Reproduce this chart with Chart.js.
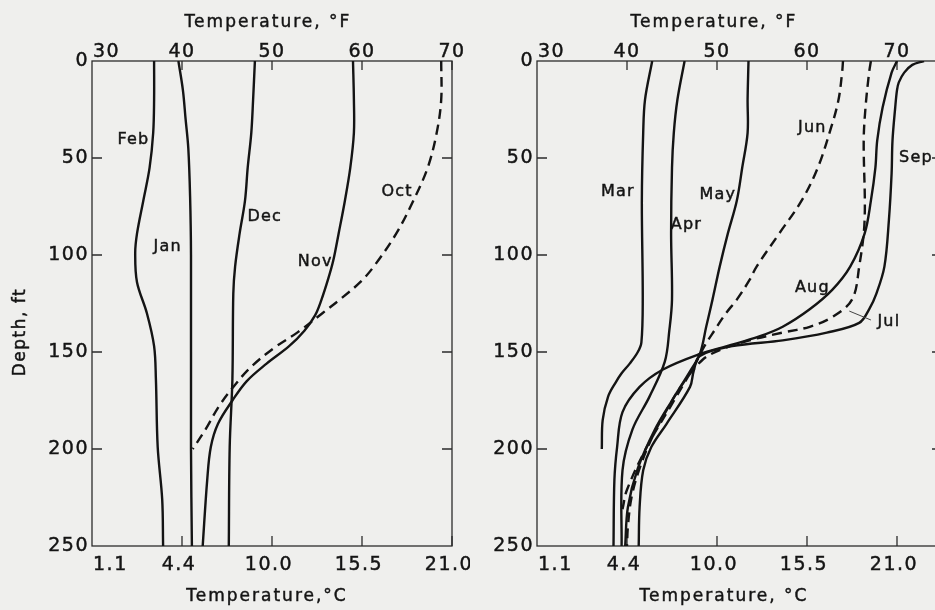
<!DOCTYPE html>
<html><head><meta charset="utf-8">
<script src="https://cdn.jsdelivr.net/npm/chart.js@4.4.1/dist/chart.umd.min.js"></script>
<style>
html,body{margin:0;padding:0;background:#efefed;overflow:hidden;width:935px;height:610px;}
#cl{position:absolute;left:0;top:0;}
#cr{position:absolute;left:470px;top:0;}
</style></head><body>
<canvas id="cl" width="470" height="610"></canvas>
<canvas id="cr" width="480" height="610"></canvas>
<script>
// ---- axis ticks ----
const fTicks = [30, 40, 50, 60, 70];
const cTickLabels = ['1.1', '4.4', '10.0', '15.5', '21.0'];
const depthTicks = [0, 50, 100, 150, 200, 250];

// ---- left panel (Oct - Feb) : depth ft, temperature °F ----
const depthFeb = [0, 20, 37, 55, 72, 89, 99, 114, 130, 147, 164, 199, 226, 250];
const tempFeb  = [36.9, 36.9, 36.8, 36.4, 35.7, 35.0, 34.8, 35.0, 36.1, 36.9, 37.1, 37.3, 37.8, 37.9];
const depthJan = [0, 15, 30, 45, 70, 100, 200, 250];
const tempJan  = [39.6, 40.1, 40.4, 40.7, 40.9, 41.0, 41.0, 41.1];
const depthDec = [0, 20, 37, 55, 72, 89, 106, 120, 164, 199, 250];
const tempDec  = [48.1, 47.9, 47.7, 47.3, 47.0, 46.4, 45.9, 45.7, 45.6, 45.3, 45.2];
const depthNov = [0, 20, 37, 55, 72, 89, 103, 113, 123, 131, 139, 147, 156, 165, 175, 187, 199, 216, 250];
const tempNov  = [59.0, 59.1, 59.1, 58.7, 58.1, 57.4, 56.8, 56.2, 55.5, 54.8, 53.6, 51.9, 49.4, 47.2, 45.6, 44.0, 43.2, 42.8, 42.3];
const depthOct = [0, 20, 37, 55, 72, 89, 106, 114, 122, 130, 140, 148, 158, 168, 178, 190, 200];
const tempOct  = [68.8, 68.8, 68.3, 67.3, 65.7, 63.8, 61.3, 59.8, 57.8, 55.6, 52.8, 50.2, 47.6, 45.7, 44.1, 42.6, 41.2];

// ---- right panel (Mar - Sep) ----
const depthMar = [0, 20, 37, 72, 123, 145, 150, 156, 161, 166, 173, 185, 200];
const tempMar  = [42.8, 42.0, 41.8, 41.65, 41.75, 41.6, 41.2, 40.3, 39.4, 38.7, 37.9, 37.3, 37.2];
const depthApr = [0, 20, 37, 55, 89, 123, 139, 155, 173, 190, 211, 250];
const tempApr  = [46.4, 45.6, 45.2, 45.0, 44.9, 45.0, 44.7, 44.2, 42.5, 40.6, 39.5, 39.4];
const depthMay = [0, 20, 37, 55, 72, 89, 106, 123, 137, 151, 160, 175, 190, 210, 230, 250];
const tempMay  = [53.5, 53.4, 53.4, 52.8, 52.2, 51.2, 50.3, 49.5, 48.8, 48.1, 47.0, 45.0, 43.1, 41.2, 40.1, 39.8];
const depthJun = [0, 6, 20, 34, 55, 72, 89, 106, 113, 123, 130, 139, 147, 156, 176, 199, 221, 231];
const tempJun  = [64.0, 63.9, 63.5, 62.7, 61.2, 59.4, 56.9, 54.4, 53.6, 52.2, 51.0, 49.7, 48.6, 47.6, 45.1, 42.2, 40.0, 39.5];
const depthJul = [0, 6, 24, 41, 82, 106, 123, 132, 137, 140, 144, 149, 154, 165, 180, 195, 210, 225, 240, 250];
const tempJul  = [67.1, 66.9, 66.5, 66.3, 66.4, 65.8, 65.0, 62.8, 60.3, 57.3, 53.6, 50.3, 48.4, 46.4, 44.4, 42.7, 41.4, 40.5, 40.1, 40.0];
const depthAug = [0, 6, 24, 41, 55, 72, 89, 106, 118, 128, 137, 142, 147, 151, 159, 168, 181, 199, 216, 250];
const tempAug  = [70.0, 69.4, 68.4, 67.8, 67.6, 67.1, 66.4, 64.8, 62.8, 60.3, 57.3, 54.7, 51.1, 48.1, 44.0, 41.4, 39.5, 38.9, 38.6, 38.5];
const depthSep = [0, 2, 6, 11, 15, 24, 41, 58, 82, 106, 120, 128, 135, 140, 144, 147, 152, 160, 168, 187, 199, 211, 230, 250];
const tempSep  = [73.0, 71.7, 70.8, 70.2, 70.0, 69.8, 69.5, 69.4, 69.1, 68.6, 67.7, 66.9, 65.8, 62.2, 57.3, 51.7, 48.1, 47.4, 47.0, 44.4, 42.7, 41.8, 41.4, 41.3];

// ---- curve labels (text, anchored in data units) ----
const leftNames  = ['Feb', 'Jan', 'Dec', 'Nov', 'Oct'];
const leftNoteT  = [34.6, 38.4, 49.2, 54.8, 63.9];
const leftNoteD  = [40.7, 95.9, 80.4, 103.6, 67.5];
const rightNames = ['Mar', 'Apr', 'May', 'Jun', 'Sep', 'Aug', 'Jul'];
const rightNoteT = [39.0, 46.6, 50.1, 60.6, 72.1, 60.6, 69.1];
const rightNoteD = [67.5, 84.5, 69.1, 34.5, 50.0, 117, 134.5];

const INK = '#141414';
const FONT = '"DejaVu Sans", sans-serif';

function curve(temps, depths, dashed) {
  return {
    data: depths.map((d, i) => ({ x: temps[i], y: d })),
    borderColor: INK,
    borderWidth: 2.4,
    borderDash: dashed ? [10, 6] : [],
    pointRadius: 0,
    fill: false,
    tension: 0.35
  };
}

function txt(ctx, s, x, y, align, base, size, spacing) {
  ctx.font = size + 'px ' + FONT;
  ctx.letterSpacing = spacing + 'px';
  ctx.textAlign = align;
  ctx.textBaseline = base;
  ctx.fillText(s, x, y);
  ctx.lineWidth = 0.45;
  ctx.strokeStyle = INK;
  ctx.strokeText(s, x, y);
}

const panelPlugin = {
  id: 'panel',
  beforeDatasetsDraw(chart, args, o) {
    const { ctx, chartArea: a, scales } = chart;
    const xs = scales.x, ys = scales.y;
    ctx.save();
    ctx.strokeStyle = '#2b2b2b';
    ctx.lineWidth = 1.3;
    ctx.strokeRect(a.left, a.top, a.right - a.left, a.bottom - a.top);
    ctx.beginPath();
    fTicks.forEach((v, i) => {
      if (i === 0) return;
      const x = xs.getPixelForValue(v);
      ctx.moveTo(x, a.top); ctx.lineTo(x, a.top + 9);
      ctx.moveTo(x, a.bottom); ctx.lineTo(x, a.bottom - 10);
    });
    depthTicks.forEach(v => {
      if (v === 0 || v === 250) return;
      const y = ys.getPixelForValue(v);
      ctx.moveTo(a.left, y); ctx.lineTo(a.left + 10, y);
      ctx.moveTo(a.right, y); ctx.lineTo(a.right - 10, y);
    });
    ctx.stroke();
    ctx.restore();
  },
  afterDraw(chart, args, o) {
    const { ctx, chartArea: a, scales } = chart;
    const xs = scales.x, ys = scales.y;
    ctx.save();
    ctx.fillStyle = INK;
    depthTicks.forEach(v => {
      txt(ctx, String(v), a.left - 3, ys.getPixelForValue(v), 'right', 'middle', 19, 1.5);
    });
    fTicks.forEach((v, i) => {
      const x = xs.getPixelForValue(v);
      txt(ctx, String(v), i === 0 ? x + 1 : x, a.top - 4, i === 0 ? 'left' : 'center', 'alphabetic', 19, 1.5);
      txt(ctx, cTickLabels[i], i === 0 ? x + 1 : x - 3, a.bottom + 24, i === 0 ? 'left' : 'center', 'alphabetic', 19, 1.5);
    });
    txt(ctx, 'Temperature, °F', a.left + o.topTitleDx, 27, 'center', 'alphabetic', 17, 2);
    txt(ctx, o.bottomTitle, a.left + o.bottomTitleDx, 601, 'center', 'alphabetic', 17, 2);
    if (o.yTitle) {
      ctx.save();
      ctx.translate(21, 332);
      ctx.rotate(-Math.PI / 2);
      txt(ctx, o.yTitle, 0, 0, 'center', 'middle', 17, 1.5);
      ctx.restore();
    }
    o.names.forEach((s, i) => {
      txt(ctx, s, xs.getPixelForValue(o.temps[i]), ys.getPixelForValue(o.depths[i]), 'center', 'middle', 16, 1.2);
    });
    if (o.leader) {
      ctx.strokeStyle = '#444';
      ctx.lineWidth = 1;
      ctx.beginPath();
      ctx.moveTo(xs.getPixelForValue(o.leader[0]), ys.getPixelForValue(o.leader[1]));
      ctx.lineTo(xs.getPixelForValue(o.leader[2]), ys.getPixelForValue(o.leader[3]));
      ctx.stroke();
    }
    ctx.restore();
  }
};

function makeChart(id, datasets, xMax, pad, opts) {
  return new Chart(document.getElementById(id), {
    type: 'line',
    data: { datasets },
    options: {
      responsive: false,
      animation: false,
      indexAxis: 'y',
      layout: { padding: pad },
      plugins: { legend: { display: false }, tooltip: { enabled: false }, panel: opts },
      scales: {
        x: { type: 'linear', min: 30, max: xMax, display: false },
        y: { type: 'linear', min: 0, max: 250, reverse: true, display: false }
      }
    },
    plugins: [panelPlugin]
  });
}

makeChart('cl', [
  curve(tempFeb, depthFeb, false),
  curve(tempJan, depthJan, false),
  curve(tempDec, depthDec, false),
  curve(tempNov, depthNov, false),
  curve(tempOct, depthOct, true)
], 70, { left: 92, right: 18, top: 61, bottom: 64 }, {
  names: leftNames, temps: leftNoteT, depths: leftNoteD,
  topTitleDx: 176, bottomTitleDx: 175, bottomTitle: 'Temperature,°C', yTitle: 'Depth, ft'
});

makeChart('cr', [
  curve(tempMar, depthMar, false),
  curve(tempApr, depthApr, false),
  curve(tempMay, depthMay, false),
  curve(tempJun, depthJun, true),
  curve(tempJul, depthJul, true),
  curve(tempAug, depthAug, false),
  curve(tempSep, depthSep, false)
], 75, { left: 67, right: 8, top: 61, bottom: 64 }, {
  names: rightNames, temps: rightNoteT, depths: rightNoteD,
  topTitleDx: 177, bottomTitleDx: 187, bottomTitle: 'Temperature, °C',
  leader: [64.7, 128.9, 67.1, 133.5]
});
</script>
</body></html>
